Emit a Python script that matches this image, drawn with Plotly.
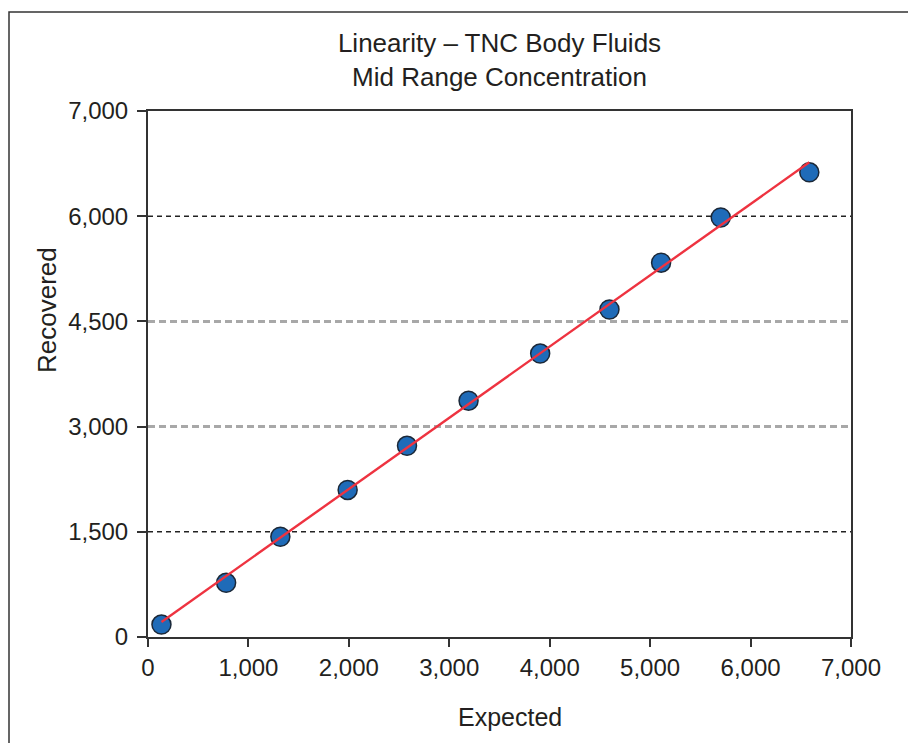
import numpy as np
import plotly.graph_objects as go

# ---- data ----
expected = [134, 778, 1318, 1988, 2579, 3192, 3905, 4595, 5109, 5703, 6585]
recovered = [177, 772, 1430, 2097, 2726, 3370, 4041, 4670, 5338, 5981, 6625]
fit_slope = 1.016
fit_intercept = 78

y_tickvals = [0, 1500, 3000, 4500, 6000, 7500]
y_ticktext = ["0", "1,500", "3,000", "4,500", "6,000", "7,000"]
x_tickvals = [0, 1000, 2000, 3000, 4000, 5000, 6000, 7000]
x_ticktext = ["0", "1,000", "2,000", "3,000", "4,000", "5,000", "6,000", "7,000"]
grid_values = [1500, 3000, 4500, 6000]

title_text = "Linearity \u2013 TNC Body Fluids<br>Mid Range Concentration"
x_title = "Expected"
y_title = "Recovered"

# ---- styling ----
FONT = "Liberation Sans, Arial, Helvetica, sans-serif"
TEXT = "#231f20"
grid_style = {
    1500: dict(color="#222222", width=1.6, dash="5px,4px"),
    3000: dict(color="#a8a8a8", width=3, dash="7px,4px"),
    4500: dict(color="#a8a8a8", width=3, dash="7px,4px"),
    6000: dict(color="#222222", width=1.6, dash="5px,4px"),
}

fig = go.Figure()

fig.add_trace(go.Scatter(
    x=expected, y=recovered, mode="markers",
    marker=dict(size=19, color="#1f6bb8", line=dict(color="#1b2838", width=1.5)),
    showlegend=False, hoverinfo="x+y",
))

xs = np.array([min(expected), max(expected)], dtype=float)
fig.add_trace(go.Scatter(
    x=xs, y=fit_slope * xs + fit_intercept, mode="lines",
    line=dict(color="#ee3340", width=2.4),
    showlegend=False, hoverinfo="skip",
))

shapes = []
for g in grid_values:
    st = grid_style[g]
    shapes.append(dict(type="line", xref="paper", yref="y", x0=0, x1=1, y0=g, y1=g,
                       line=st, layer="below"))

# outer frame around the whole figure (extends beyond right/bottom edges)
L, R, T, B = 148, 57, 111, 106
W, H = 908, 743
pw, ph = W - L - R, H - T - B
def px_to_paper_x(px):
    return (px - L) / pw
def px_to_paper_y(py):
    return (H - B - py) / ph
shapes.append(dict(type="rect", xref="paper", yref="paper",
                   x0=px_to_paper_x(9), x1=px_to_paper_x(930),
                   y0=px_to_paper_y(770), y1=px_to_paper_y(12),
                   line=dict(color="#333333", width=1.5), fillcolor="rgba(0,0,0,0)",
                   layer="above"))

annotations = [
    dict(text=x_title, xref="paper", yref="paper",
         x=px_to_paper_x(510), y=px_to_paper_y(717),
         xanchor="center", yanchor="middle", showarrow=False,
         font=dict(size=25, family=FONT, color=TEXT)),
    dict(text=y_title, xref="paper", yref="paper", textangle=-90,
         x=px_to_paper_x(47), y=px_to_paper_y(310),
         xanchor="center", yanchor="middle", showarrow=False,
         font=dict(size=26, family=FONT, color=TEXT)),
]

fig.update_layout(
    width=W, height=H,
    margin=dict(l=L, r=R, t=T, b=B, pad=0),
    paper_bgcolor="white", plot_bgcolor="white",
    font=dict(family=FONT, color=TEXT, size=24),
    title=dict(text=title_text, x=0.5, xref="paper", xanchor="center",
               y=1 - 52 / H, yref="container", yanchor="top",
               font=dict(family=FONT, size=26, color=TEXT)),
    shapes=shapes,
    annotations=annotations,
    showlegend=False,
)

fig.update_xaxes(
    range=[0, 7000], tickvals=x_tickvals, ticktext=x_ticktext,
    showgrid=False, zeroline=False,
    showline=True, linecolor="#333333", linewidth=2, mirror=True,
    ticks="outside", ticklen=8, tickwidth=2, tickcolor="#333333",
    tickfont=dict(size=24, family=FONT, color=TEXT),
)
fig.update_yaxes(
    range=[0, 7500], tickvals=y_tickvals, ticktext=y_ticktext,
    showgrid=False, zeroline=False,
    showline=True, linecolor="#333333", linewidth=2, mirror=True,
    ticks="outside", ticklen=9, tickwidth=2, tickcolor="#333333",
    tickfont=dict(size=24, family=FONT, color=TEXT),
    ticklabelstandoff=4,
)

fig.write_html("out.html")
